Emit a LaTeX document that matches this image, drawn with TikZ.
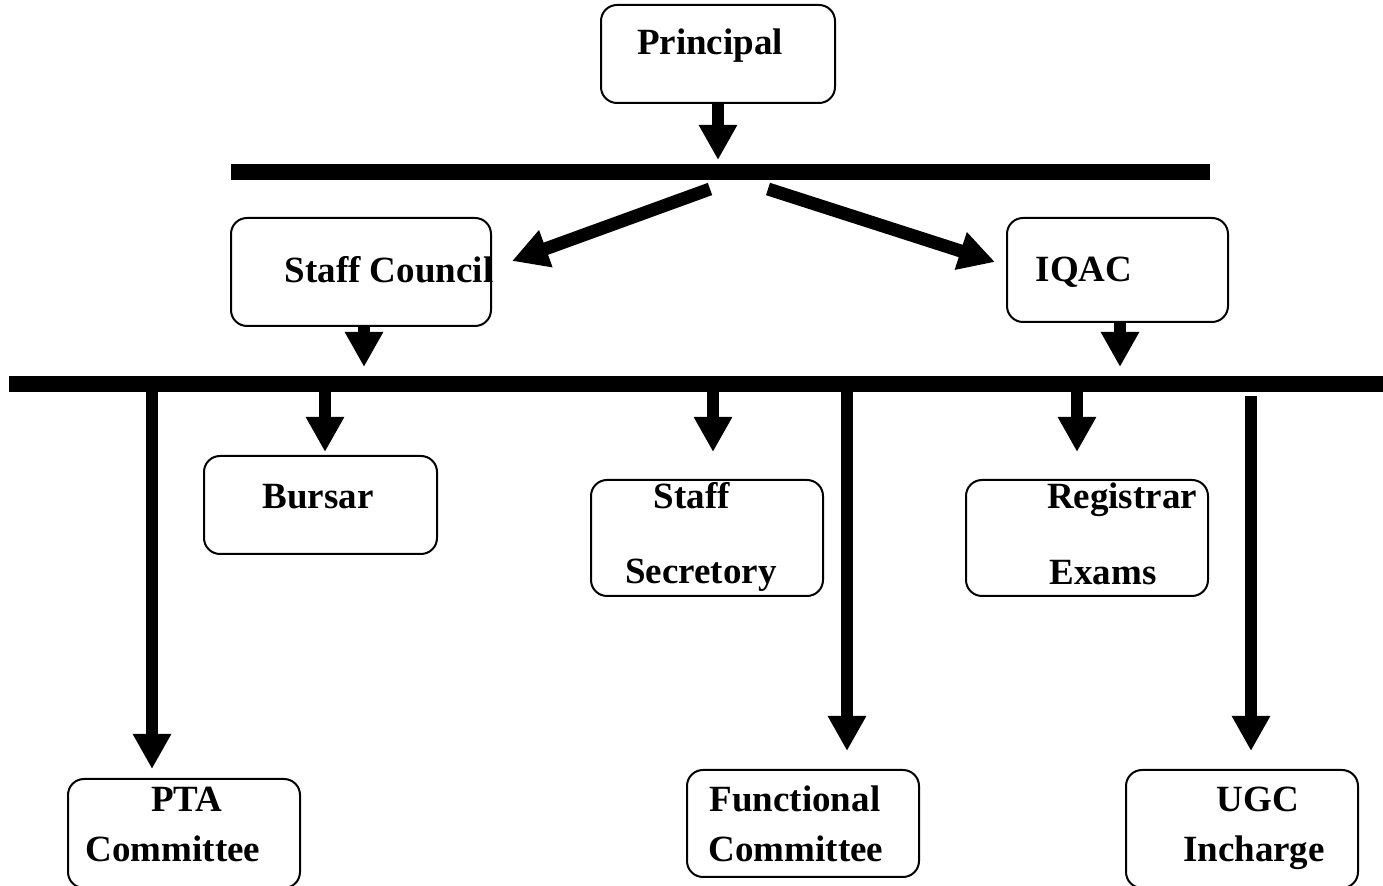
\documentclass[tikz,border=0pt]{standalone}
\usepackage{fontspec}
\setmainfont{Liberation Serif}
\usetikzlibrary{arrows.meta}
\tikzstyle{unitbox}=[draw,rounded corners=8pt,line width=1pt,inner sep=0pt]
\tikzstyle{unitname}=[anchor=base,inner sep=0pt,font=\bfseries\fontsize{18.5}{22}\selectfont]
\tikzstyle{bar}=[line width=8pt]
\tikzstyle{link}=[line width=6pt,-{Triangle[width=18pt,length=17.5pt]}]
\tikzstyle{slantlink}=[line width=6.5pt,-{Triangle[width=18.5pt,length=18pt]}]

\begin{document}
\begin{tikzpicture}[x=0.5pt,y=-0.5pt]
\useasboundingbox (0,0) rectangle (1383,886);

\node [unitbox,minimum width=117pt,minimum height=49pt] (principal) at (718,54) {};
\node [unitbox,minimum width=130pt,minimum height=54pt] (council) at (361,272) {};
\node [unitbox,minimum width=110.5pt,minimum height=52pt] (iqac) at (1117.5,270) {};
\node [unitbox,minimum width=116.5pt,minimum height=49pt] (bursar) at (320.5,505) {};
\node [unitbox,minimum width=116pt,minimum height=58pt] (secretory) at (707,538) {};
\node [unitbox,minimum width=121pt,minimum height=58pt] (registrar) at (1087,538) {};
\node [unitbox,minimum width=116pt,minimum height=54.5pt] (pta) at (184,833.5) {};
\node [unitbox,minimum width=116pt,minimum height=53.5pt] (functional) at (803,823.5) {};
\node [unitbox,minimum width=116pt,minimum height=59pt] (ugc) at (1242,829) {};

\node [unitname] (principal-a) at (710,55) {Principal};
\node [unitname] (council-a) at (389,283) {Staff Council};
\node [unitname] (iqac-a) at (1084,282) {IQAC};
\node [unitname] (bursar-a) at (318,509) {Bursar};
\node [unitname] (secretory-a) at (692,509) {Staff};
\node [unitname] (secretory-b) at (701,584) {Secretory};
\node [unitname] (registrar-a) at (1122,509) {Registrar};
\node [unitname] (registrar-b) at (1103,585) {Exams};
\node [unitname] (pta-a) at (187,812) {PTA};
\node [unitname] (pta-b) at (173,862) {Committee};
\node [unitname] (functional-a) at (795,812) {Functional};
\node [unitname] (functional-b) at (796,862) {Committee};
\node [unitname] (ugc-a) at (1258,812) {UGC};
\node [unitname] (ugc-b) at (1254,862) {Incharge};

\coordinate (topbar-w) at (231,172.5);
\coordinate (topbar-e) at (1210,172.5);
\coordinate (lowbar-w) at (9,384);
\coordinate (lowbar-e) at (1383,384);
\draw [bar] (topbar-w) -- (topbar-e);
\draw [bar] (lowbar-w) -- (lowbar-e);

\coordinate (principal-tip) at (718,160);
\coordinate (fork-l) at (710,189);
\coordinate (fork-r) at (768,189);
\coordinate (council-in) at (512,261);
\coordinate (iqac-in) at (995,262);
\coordinate (council-tip) at (364,367);
\coordinate (iqac-tip) at (1120,367);
\draw [link] (principal.south -| principal-tip) -- (principal-tip);
\draw [slantlink] (fork-l) -- (council-in);
\draw [slantlink] (fork-r) -- (iqac-in);
\draw [link] (council.south -| council-tip) -- (council-tip);
\draw [link] (iqac.south -| iqac-tip) -- (iqac-tip);

\coordinate (bursar-tip) at (325,452);
\coordinate (secretory-tip) at (713,452);
\coordinate (registrar-tip) at (1077,452);
\coordinate (pta-tip) at (152,769);
\coordinate (functional-tip) at (847,751);
\coordinate (ugc-top) at (1251,396);
\coordinate (ugc-tip) at (1251,751);
\draw [link] (bursar-tip |- lowbar-w) -- (bursar-tip);
\draw [link] (secretory-tip |- lowbar-w) -- (secretory-tip);
\draw [link] (registrar-tip |- lowbar-w) -- (registrar-tip);
\draw [link] (pta-tip |- lowbar-w) -- (pta-tip);
\draw [link] (functional-tip |- lowbar-w) -- (functional-tip);
\draw [link] (ugc-top) -- (ugc-tip);
\end{tikzpicture}
\end{document}
